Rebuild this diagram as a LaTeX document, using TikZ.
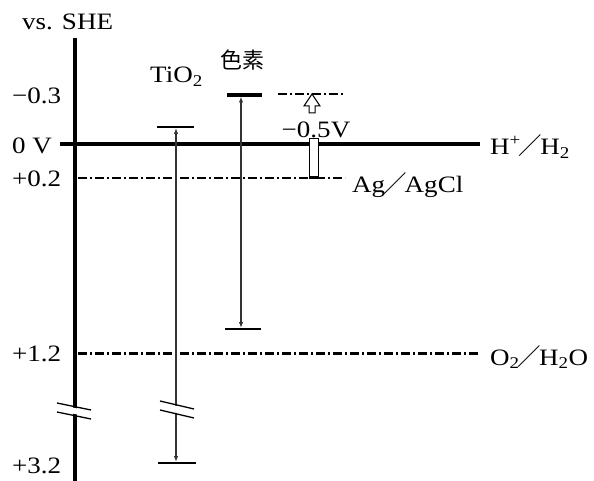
\documentclass[tikz,border=0pt]{standalone}
\usepackage{fontspec}
\setmainfont{Liberation Serif}[FakeStretch=1.15]
\newfontfamily\cjk{Noto Sans CJK JP}
\usetikzlibrary{arrows.meta}

\newcommand{\slashsep}{\kern-2pt{\cjk ／}\kern-2pt}

\begin{document}
\begin{tikzpicture}[x=1pt, y=-1pt,
  axis/.style={line width=4pt},
  lvl/.style={line width=2pt},
  lvlthick/.style={line width=3.5pt},
  ref/.style={line width=1.8pt, dash pattern=on 9pt off 3pt on 2pt off 3pt},
  lab/.style={font=\fontsize{23.5}{26}\selectfont, inner sep=0pt, anchor=base west},
  trans/.style={{Latex[length=6pt,width=4.5pt]}-{Latex[length=6pt,width=4.5pt]},
    line width=1.5pt, black!80},
  brk/.style={line width=1.3pt},
  >=Stealth
]
  \useasboundingbox (0,0) rectangle (594,481);

  % potential axis
  \coordinate (axtop) at (75,38);
  \coordinate (axbot) at (75,481);
  \draw[axis] (axtop) -- (axbot);
  \node[lab] (unit) at (22,30) {vs. SHE};
  \node[lab] (m03) at (12,104) {−0.3};
  \node[lab] (zero) at (12,154) {0 V};
  \node[lab] (p02) at (12,187) {+0.2};
  \node[lab] (p12) at (12,361) {+1.2};
  \node[lab] (p32) at (12,473) {+3.2};

  % reference electrodes
  \coordinate (hl) at (60,144);
  \coordinate (hr) at (480,144);
  \draw[axis] (hl) -- (hr);
  \node[lab] (hlab) at (490,155) {H\textsuperscript{+}\slashsep H\textsubscript{2}};

  \coordinate (agl) at (78,178);
  \coordinate (agr) at (345,178);
  \draw[ref] (agl) -- (agr);
  \node[lab] (aglab) at (352,193) {Ag\slashsep AgCl};

  \coordinate (ol) at (78,353);
  \coordinate (or) at (480,353);
  \draw[ref, line width=3pt] (ol) -- (or);
  \node[lab] (olab) at (490,365) {O\textsubscript{2}\slashsep H\textsubscript{2}O};

  % TiO2
  \coordinate (tiotl) at (157,127);
  \coordinate (tiotr) at (194,127);
  \coordinate (tiobl) at (158,463);
  \coordinate (tiobr) at (196,463);
  \draw[lvl] (tiotl) -- (tiotr);
  \draw[lvl, line width=2.5pt] (tiobl) -- (tiobr);
  \coordinate (tiotop) at (176,128);
  \coordinate (tiobot) at (176,462);
  \draw[trans] (tiotop) -- (tiobot);
  \node[lab] (tiolab) at (150,83) {TiO\textsubscript{2}};

  % dye
  \coordinate (dyetl) at (227,95);
  \coordinate (dyetr) at (262,95);
  \coordinate (dyebl) at (225,329);
  \coordinate (dyebr) at (261,329);
  \draw[lvlthick] (dyetl) -- (dyetr);
  \draw[lvl, line width=2.5pt] (dyebl) -- (dyebr);
  \coordinate (dyetop) at (241,96.5);
  \coordinate (dyebot) at (241,328);
  \draw[trans] (dyetop) -- (dyebot);
  \node[font=\cjk\fontsize{22}{24}\selectfont, inner sep=0pt] (dyelab) at (242,60) {色素};

  % shift of -0.5 V
  \coordinate (sl) at (278,94);
  \coordinate (sr) at (345,94);
  \draw[ref, line width=1.5pt] (sl) -- (sr);
  \draw[line width=1pt, fill=white]
    (312,94) -- (320,106) -- (315,106) -- (315,113) -- (309,113) -- (309,106)
    -- (304,106) -- cycle;
  \draw[line width=1pt, fill=white] (309,139) rectangle (318,177);
  \draw[line width=2.5pt] (309,178) -- (318,178);
  \node[lab, anchor=base] (shiftlab) at (316,138) {−0.5V};

  % axis breaks
  \fill[white] (60,405) -- (90,411) -- (90,417) -- (60,411) -- cycle;
  \draw[brk] (57,403) -- (91,410);
  \draw[brk] (57,412) -- (91,419);
  \fill[white] (162,403) -- (192,409) -- (192,416) -- (162,410) -- cycle;
  \draw[brk] (160,401) -- (194,409);
  \draw[brk] (160,410) -- (194,418);
\end{tikzpicture}
\end{document}
